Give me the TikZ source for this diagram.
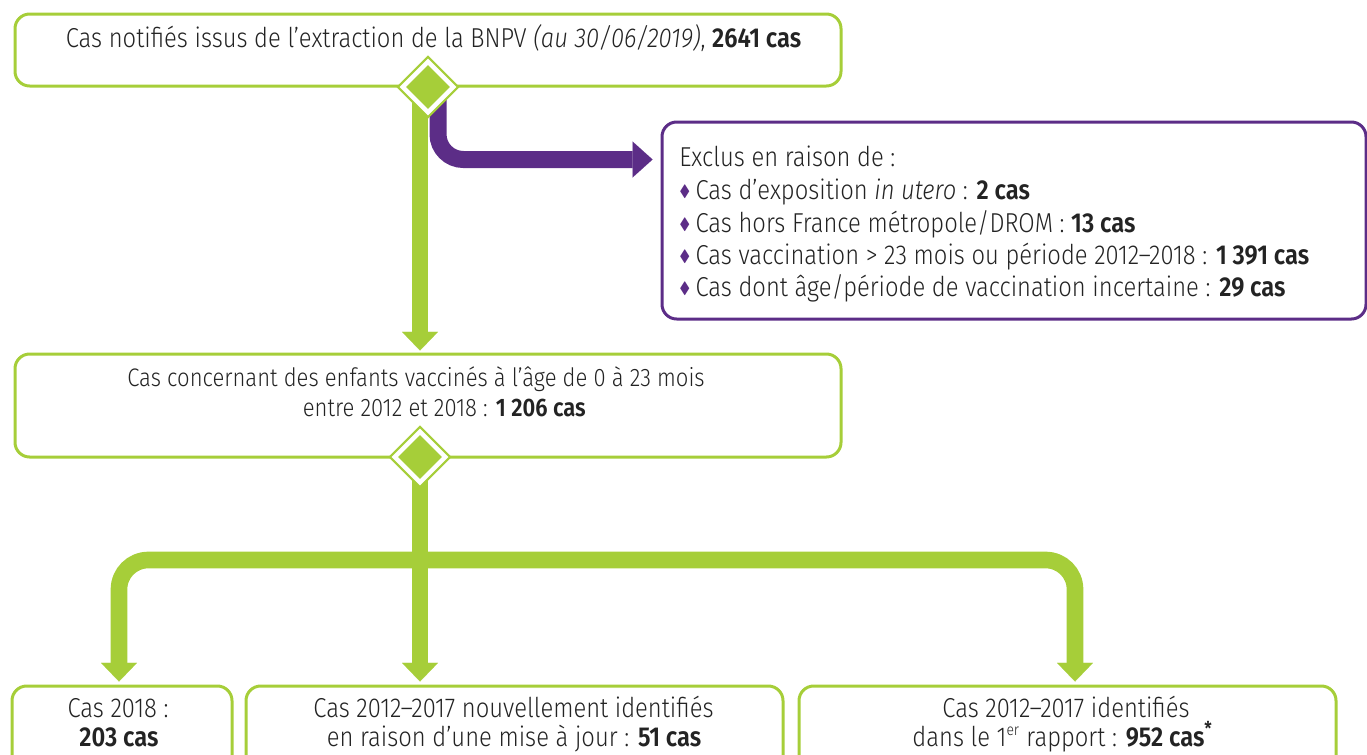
\documentclass[tikz,border=0pt]{standalone}
\usepackage{amssymb}
\usepackage{fontspec}
\setmainfont{Fira Sans}[UprightFont={* Light}, ItalicFont={* Light Italic}, BoldFont={* SemiBold}, FakeStretch=0.87]
\usetikzlibrary{arrows.meta,shapes.geometric,calc}
\pgfdeclarelayer{background}
\pgfsetlayers{background,main}
\definecolor{gvert}{RGB}{166,206,57}
\definecolor{gviolet}{RGB}{92,45,135}
\definecolor{gtxt}{RGB}{35,35,35}
\newcommand\puce{\textcolor{gviolet}{\raisebox{2pt}{\scalebox{0.6}{$\blacklozenge$}}}\hspace{4pt}}
\begin{document}
\begin{tikzpicture}[x=0.75pt,y=-0.75pt,
  font=\fontsize{20.5}{24}\selectfont, text=gtxt,
  gbox/.style={draw=gvert, line width=2.25pt, rounded corners=11pt, inner sep=0pt},
  pbox/.style={draw=gviolet, line width=2.25pt, rounded corners=11pt, inner sep=0pt},
  lbl/.style={inner sep=0pt, anchor=base},
  lblw/.style={inner sep=0pt, anchor=base west},
  garrow/.style={draw=gvert, line width=12.5pt, rounded corners=22pt,
    -{Triangle[width=27pt,length=14pt,line width=0.01pt]}},
  parrow/.style={draw=gviolet, line width=12.75pt, rounded corners=19pt,
    -{Triangle[width=27pt,length=15pt,line width=0.01pt]}},
  outerdiam/.style={diamond, draw=gvert, fill=white, line width=1.6pt, inner sep=0pt, minimum width=46pt, minimum height=46pt},
  innerdiam/.style={diamond, fill=gvert, inner sep=0pt, minimum width=33pt, minimum height=33pt}]
\useasboundingbox (0,0) rectangle (1367,754);

% boxes
\node[gbox, minimum width=619.5pt, minimum height=54pt] (top) at (428,50) {};
\node[gbox, minimum width=619.5pt, minimum height=77.25pt] (mid) at (428,405.5) {};
\node[pbox, minimum width=528pt, minimum height=147.75pt] (ex) at (1014,220.5) {};
\node[gbox, minimum width=165pt, minimum height=66.75pt] (b1) at (122,730.5) {};
\node[gbox, minimum width=402.75pt, minimum height=66.75pt] (b2) at (514.5,730.5) {};
\node[gbox, minimum width=402.75pt, minimum height=66.75pt] (b3) at (1067.5,730.5) {};

% texts
\node[lbl] (t0) at (433.5,47) {Cas notifiés issus de l’extraction de la BNPV \textit{(au 30/06/2019)}, \textbf{2641 cas}};

\node[lblw] (e0) at (679,166) {Exclus en raison de :};
\node[lblw] (e1) at (679,199) {\puce Cas d’exposition \textit{in utero} : \textbf{2 cas}};
\node[lblw] (e2) at (679,232) {\puce Cas hors France métropole/DROM : \textbf{13 cas}};
\node[lblw] (e3) at (679,264) {\puce Cas vaccination > 23 mois ou période 2012–2018 : \textbf{1~391 cas}};
\node[lblw] (e4) at (679,296) {\puce Cas dont âge/période de vaccination incertaine : \textbf{29 cas}};

\node[lbl, font=\fontsize{19}{22}\selectfont] (m1) at (416,386) {Cas concernant des enfants vaccinés à l’âge de 0 à 23 mois};
\node[lbl, anchor=base east, font=\fontsize{19}{22}\selectfont] (m2) at (586,416) {entre 2012 et 2018 : \textbf{1~206 cas}};

\node[lbl] (u1) at (118,717) {Cas 2018 :};
\node[lbl] (u2) at (119,746) {\textbf{203 cas}};
\node[lbl] (v1) at (513.5,717) {Cas 2012–2017 nouvellement identifiés};
\node[lbl] (v2) at (514,746) {en raison d’une mise à jour : \textbf{51 cas}};
\node[lbl] (w1) at (1066,717) {Cas 2012–2017 identifiés};
\node[lbl] (w2) at (1062.5,746) {dans le 1\textsuperscript{\fontsize{12}{12}\selectfont er} rapport : \textbf{952 cas\textsuperscript{*}}};

% diamonds
\node[outerdiam] (d1) at (428,87) {};
\node[innerdiam] (d1i) at (d1.center) {};
\node[outerdiam] (d2) at (420,457) {};
\node[innerdiam] (d2i) at (d2.center) {};

% connectors
\begin{pgfonlayer}{background}
\draw[garrow] ($(d1.center)+(-8,0)$) -- ($(mid.north)+(-8,-2)$);
\draw[parrow] ($(d1.center)+(10,8)$) |- ($(ex.north west)+(-8,39)$);
\draw[garrow] (d2.center) -- ($(d2.center |- b2.north)+(0,-3)$);
\draw[garrow] ($(d2.center)+(0,103)$) -| ($(b1.north)+(-3,-3)$);
\draw[garrow] ($(d2.center)+(0,103)$) -| ($(b3.north)+(7.5,-3)$);
\end{pgfonlayer}
\end{tikzpicture}
\end{document}
